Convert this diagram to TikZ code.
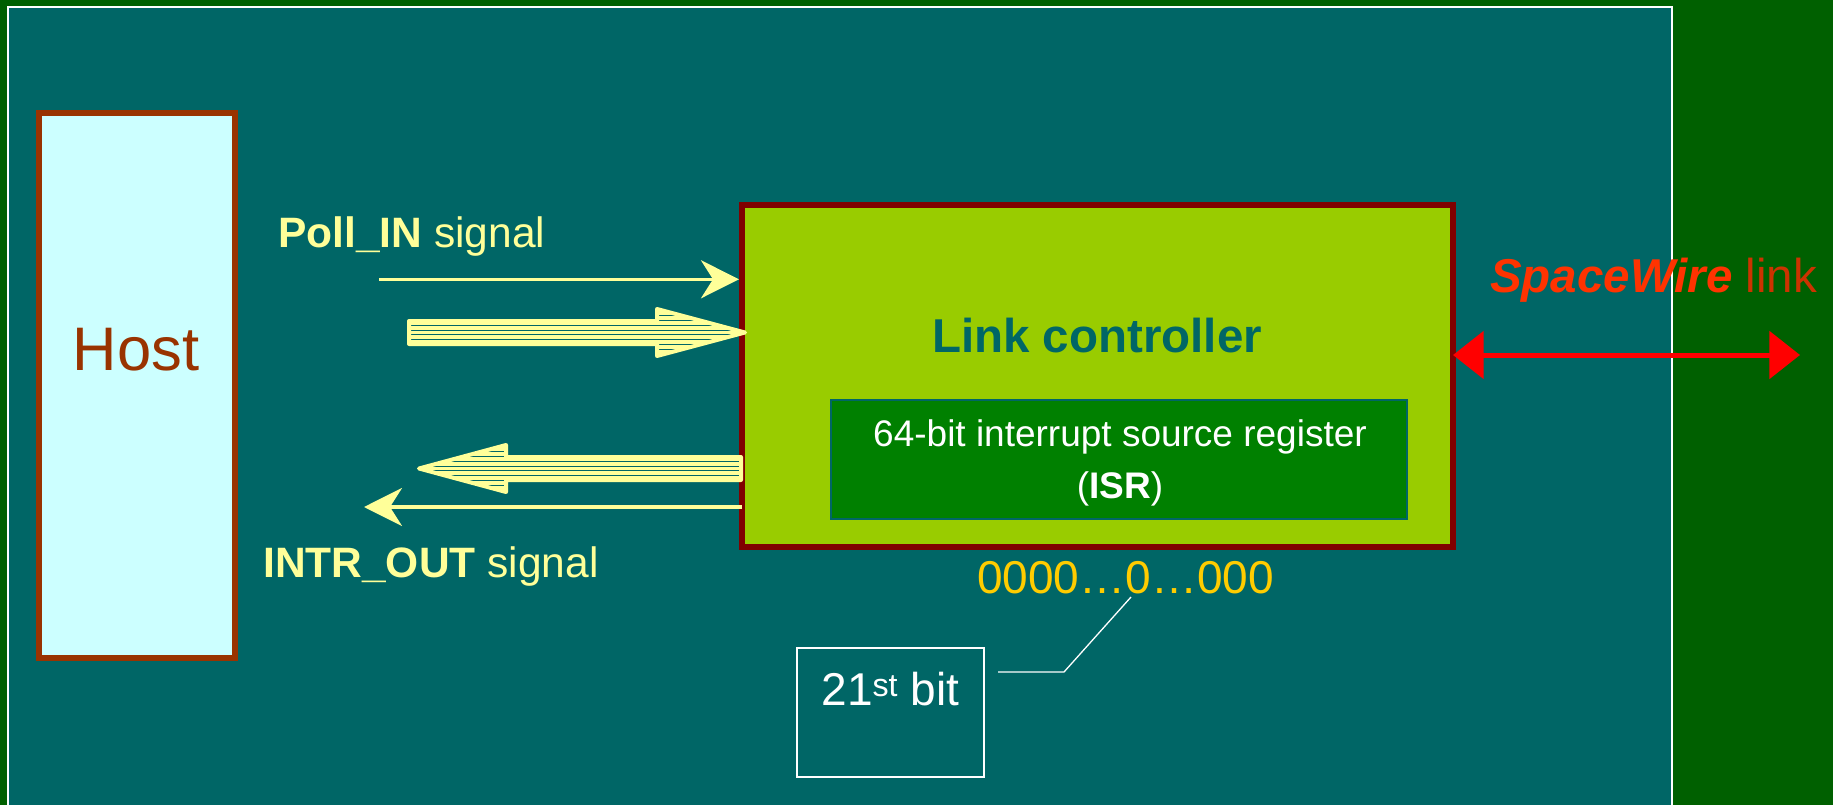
\documentclass[tikz,border=0pt]{standalone}
\usepackage{fontspec}
\setmainfont{Liberation Sans}
\usetikzlibrary{arrows.meta}

\definecolor{bggreen}{HTML}{006000}
\definecolor{panelteal}{HTML}{006666}
\definecolor{hostfill}{HTML}{CCFFFF}
\definecolor{hostborder}{HTML}{993300}
\definecolor{lcfill}{HTML}{99CC00}
\definecolor{lcborder}{HTML}{800000}
\definecolor{isrfill}{HTML}{008000}
\definecolor{paleyellow}{HTML}{FFFF99}
\definecolor{bitgold}{HTML}{FFCC00}
\definecolor{swred}{HTML}{FF3300}
\definecolor{linkred}{HTML}{CC3300}
\definecolor{linkarrow}{HTML}{FF0000}

\tikzset{
  hostbox/.style={draw=hostborder, fill=hostfill, line width=6pt,
    minimum width=196pt, minimum height=545pt, inner sep=0pt},
  hosttext/.style={anchor=base, inner sep=0pt, text=hostborder,
    font=\fontsize{61.5}{72}\selectfont},
  lcbox/.style={draw=lcborder, fill=lcfill, line width=6pt,
    minimum width=711pt, minimum height=342pt, inner sep=0pt},
  lctext/.style={anchor=base, inner sep=0pt, text=panelteal,
    font=\bfseries\fontsize{47.5}{56}\selectfont},
  isrbox/.style={draw=panelteal, fill=isrfill, line width=1.5pt,
    minimum width=576pt, minimum height=119pt, inner sep=0pt},
  isrtext/.style={anchor=base, inner sep=0pt, text=white,
    font=\fontsize{37}{44}\selectfont},
  bitstext/.style={anchor=base west, inner sep=0pt, text=bitgold,
    font=\fontsize{46}{54}\selectfont},
  bitbox/.style={draw=white, line width=1.5pt,
    minimum width=187pt, minimum height=129pt, inner sep=0pt},
  bittext/.style={anchor=base, inner sep=0pt, text=white,
    font=\fontsize{46}{54}\selectfont},
  callout/.style={draw=white, line width=1.3pt},
  siglabel/.style={anchor=base west, inner sep=0pt, text=paleyellow,
    font=\fontsize{42.5}{50}\selectfont},
  swlabel/.style={anchor=base west, inner sep=0pt, text=linkred,
    font=\fontsize{47.5}{56}\selectfont},
  thinarrow/.style={draw=paleyellow, line width=3.3pt,
    -{Stealth[length=38pt, width=38pt, inset=12pt]}},
  swarrow/.style={draw=linkarrow, line width=5pt,
    {Triangle[length=30.6pt, width=47pt]}-{Triangle[length=30.6pt, width=47pt]}},
  stripe/.style={draw=panelteal, line width=1pt},
  fatrim/.style={draw=paleyellow, line width=4pt, line join=round},
  pollshape/.style={insert path={(409,321) -- (657,321) -- (657,309) -- (745,332.5)
    -- (657,356) -- (657,344) -- (409,344) -- cycle}},
  intrshape/.style={insert path={(741,457) -- (506,457) -- (506,445) -- (419,468.5)
    -- (506,492) -- (506,480) -- (741,480) -- cycle}},
}

\begin{document}
\begin{tikzpicture}[x=1pt, y=-1pt]
\useasboundingbox (0,0) rectangle (1833,805);
\fill[bggreen] (0,0) rectangle (1833,805);
\filldraw[fill=panelteal, draw=white, line width=1.8pt] (8,7) rectangle (1672,830);

% host
\node[hostbox] (host) at (137,385.5) {};
\node[hosttext] (hostlbl) at (136,370) {Host};

% link controller with its interrupt source register
\node[lcbox] (lc) at (1097.5,376) {};
\node[lctext] (lclbl) at (1097,352) {Link controller};
\node[isrbox] (isr) at (1119,459.5) {};
\node[isrtext] (isrline1) at (1120,446.7) {64-bit interrupt source register};
\node[isrtext] (isrline2) at (1120,498.3) {(\textbf{ISR})};

% register contents and the marked bit
\node[bitstext] (bits) at (977,593) {0000…0…000};
\node[bitbox] (bitframe) at (890.5,712.5) {};
\node[bittext] (bitlbl) at (890.5,705.7) {21\textsuperscript{st} bit};
\coordinate (bitpick) at (1131,597);
\coordinate (bitbend) at (1064,672);
\coordinate (bitend) at (998,672);
\draw[callout] (bitpick) -- (bitbend) -- (bitend);

% signal labels
\node[siglabel] (polllbl) at (278,247) {\textbf{Poll\_IN} signal};
\node[siglabel] (intrlbl) at (263,577) {\textbf{INTR\_OUT} signal};
\node[swlabel] (swlbl) at (1490,292) {\textcolor{swred}{\textbf{\textit{SpaceWire}}} link};

% striped data arrows
\fill[paleyellow, pollshape];
\begin{scope}
  \path[clip, pollshape];
  \foreach \yy in {310.45,315.35,320.25,325.15,330.05,334.95,339.85,344.75,349.65,354.55}
    \draw[stripe] (400,\yy) -- (760,\yy);
\end{scope}
\path[fatrim, pollshape];

\fill[paleyellow, intrshape];
\begin{scope}
  \path[clip, intrshape];
  \foreach \yy in {446.45,451.35,456.25,461.15,466.05,470.95,475.85,480.75,485.65,490.55}
    \draw[stripe] (410,\yy) -- (750,\yy);
\end{scope}
\path[fatrim, intrshape];

% signal lines
\coordinate (pollstart) at (379,279.3);
\draw[thinarrow] (pollstart) -- (lc.west |- pollstart);
\coordinate (intrend) at (364,507);
\draw[thinarrow] ([xshift=3pt]lc.west |- intrend) -- (intrend);

% SpaceWire link
\coordinate (swend) at (1800,355);
\draw[swarrow] ([xshift=-3pt]lc.east |- swend) -- (swend);
\end{tikzpicture}
\end{document}
